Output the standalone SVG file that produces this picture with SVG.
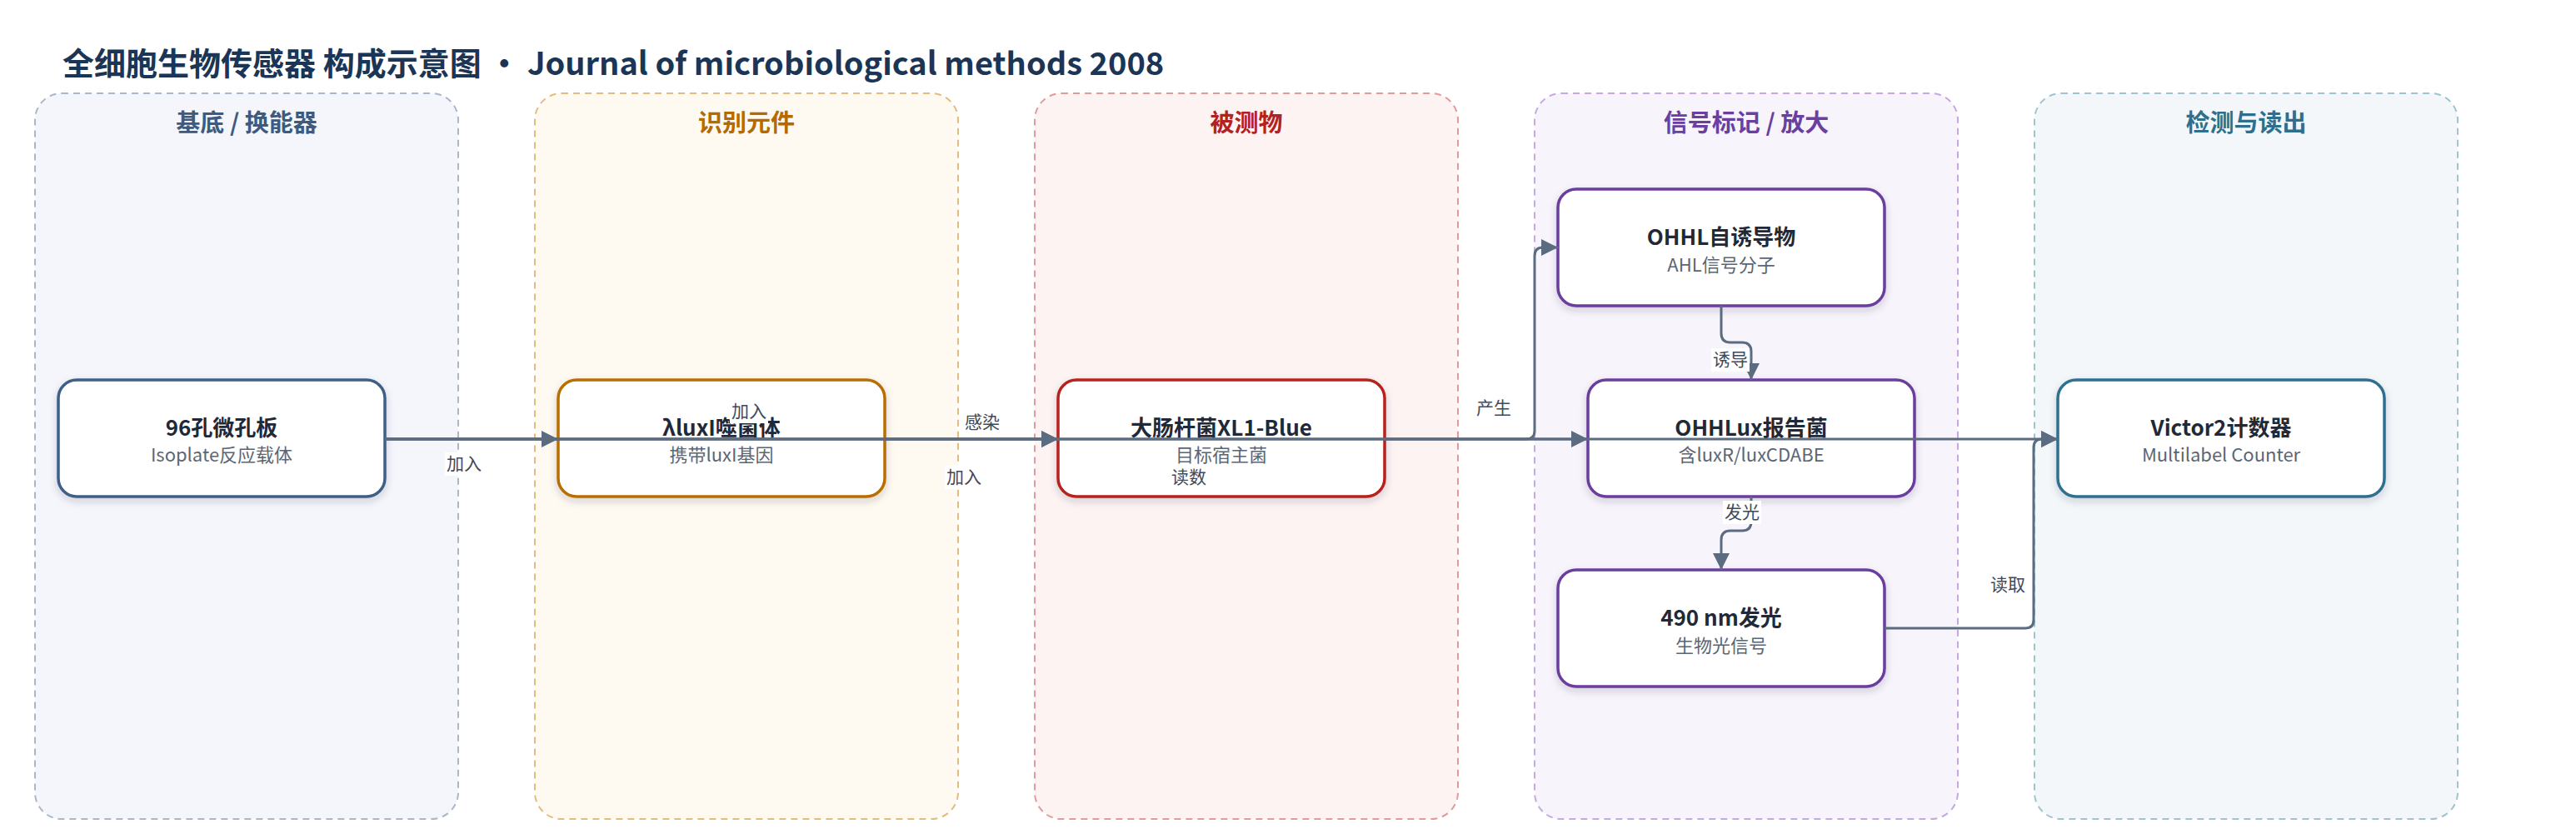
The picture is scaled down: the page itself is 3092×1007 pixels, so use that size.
<svg xmlns="http://www.w3.org/2000/svg" width="3092" height="1007" viewBox="0 0 3092 1007">
<defs>
<style>
text{font-family:"Noto Sans CJK SC","Noto Sans",sans-serif}
.title{font-size:38px;font-weight:700;fill:#1b3556}
.lane{stroke-width:2;stroke-dasharray:8 6}
.lt{font-size:29px;font-weight:700;text-anchor:middle}
.node rect{fill:#fff;stroke-width:3.5;filter:url(#sh)}
.t{font-size:26px;font-weight:700;fill:#1f2937;text-anchor:middle}
.s{font-size:22px;fill:#5b6675;text-anchor:middle}
.edge{fill:none;stroke:#5b6b80;stroke-width:3}
.lbl{font-size:21px;fill:#3f4a5a;text-anchor:middle}
.lb{fill:#fff}
</style>
<filter id="sh" x="-10%" y="-10%" width="120%" height="130%">
<feDropShadow dx="0" dy="4" stdDeviation="5" flood-color="#1f2937" flood-opacity="0.18"/>
</filter>
<marker id="ar" markerWidth="20" markerHeight="20" refX="20" refY="10" orient="auto" markerUnits="userSpaceOnUse">
<path d="M0,0 L20,10 L0,20 z" fill="#5b6b80"/>
</marker>
</defs>
<rect width="3092" height="1007" fill="#fff"/>
<text class="title" x="75" y="90">全细胞生物传感器 构成示意图 · Journal of microbiological methods 2008</text>

<g id="lanes">
<g id="lane-substrate">
<rect class="lane" x="42" y="112" width="508" height="871" rx="32" fill="#f4f6fb" stroke="#a9b7c9"/>
<text class="lt" x="296" y="158" fill="#3d5a80">基底 / 换能器</text>
</g>
<g id="lane-recognition">
<rect class="lane" x="642" y="112" width="508" height="871" rx="32" fill="#fef9f1" stroke="#e3bc7f"/>
<text class="lt" x="896" y="158" fill="#b46a00">识别元件</text>
</g>
<g id="lane-analyte">
<rect class="lane" x="1242" y="112" width="508" height="871" rx="32" fill="#fdf3f3" stroke="#e39a9a"/>
<text class="lt" x="1496" y="158" fill="#b22222">被测物</text>
</g>
<g id="lane-signal">
<rect class="lane" x="1842" y="112" width="508" height="871" rx="32" fill="#f7f4fc" stroke="#c6a8e3"/>
<text class="lt" x="2096" y="158" fill="#6b3fa0">信号标记 / 放大</text>
</g>
<g id="lane-readout">
<rect class="lane" x="2442" y="112" width="508" height="871" rx="32" fill="#f3f7f9" stroke="#9fc3cf"/>
<text class="lt" x="2696" y="158" fill="#2e6f8e">检测与读出</text>
</g>
</g>

<g id="node-plate" class="node">
<rect x="70" y="456" width="392" height="140" rx="22" stroke="#3f5f87"/>
<text class="t" x="266" y="523">96孔微孔板</text>
<text class="s" x="266" y="554">Isoplate反应载体</text>
</g>
<g id="node-phage" class="node">
<rect x="670" y="456" width="392" height="140" rx="22" stroke="#b86e00"/>
<text class="t" x="866" y="523">λluxI噬菌体</text>
<text class="s" x="866" y="554">携带luxI基因</text>
</g>
<g id="node-ecoli" class="node">
<rect x="1270" y="456" width="392" height="140" rx="22" stroke="#b8201f"/>
<text class="t" x="1466" y="523">大肠杆菌XL1-Blue</text>
<text class="s" x="1466" y="554">目标宿主菌</text>
</g>
<g id="node-ohhl" class="node">
<rect x="1870" y="227" width="392" height="140" rx="22" stroke="#6a3d9e"/>
<text class="t" x="2066" y="294">OHHL自诱导物</text>
<text class="s" x="2066" y="326">AHL信号分子</text>
</g>
<g id="node-reporter" class="node">
<rect x="1906" y="456" width="392" height="140" rx="22" stroke="#6a3d9e"/>
<text class="t" x="2102" y="523">OHHLux报告菌</text>
<text class="s" x="2102" y="554">含luxR/luxCDABE</text>
</g>
<g id="node-light" class="node">
<rect x="1870" y="684" width="392" height="140" rx="22" stroke="#6a3d9e"/>
<text class="t" x="2066" y="751">490 nm发光</text>
<text class="s" x="2066" y="783">生物光信号</text>
</g>
<g id="node-victor" class="node">
<rect x="2470" y="456" width="392" height="140" rx="22" stroke="#2f6f8f"/>
<text class="t" x="2666" y="523">Victor2计数器</text>
<text class="s" x="2666" y="554">Multilabel Counter</text>
</g>

<g id="edges">
<path class="edge" d="M462,527 H2470" marker-end="url(#ar)"/>
<path class="edge" d="M462,527 H1906" marker-end="url(#ar)"/>
<path class="edge" d="M462,527 H1270" marker-end="url(#ar)"/>
<path class="edge" d="M1062,527 H1270" marker-end="url(#ar)"/>
<path class="edge" d="M462,527 H670" marker-end="url(#ar)"/>
<path class="edge" d="M1662,527 H1832 Q1842,527 1842,517 V307 Q1842,297 1852,297 H1870" marker-end="url(#ar)"/>
<path class="edge" d="M2066,367 V400 Q2066,411 2077,411 H2091 Q2102,411 2102,422 V456" marker-end="url(#ar)"/>
<path class="edge" d="M2102,596 V626 Q2102,637 2091,637 H2077 Q2066,637 2066,648 V684" marker-end="url(#ar)"/>
<path class="edge" d="M2262,754 H2431 Q2441,754 2441,744 V537 Q2441,527 2451,527 H2470" marker-end="url(#ar)"/>
<g id="edge-labels">
<rect class="lb" x="534" y="543" width="46" height="28"/><text class="lbl" x="557" y="564">加入</text>
<rect class="lb" x="876" y="480" width="46" height="28"/><text class="lbl" x="899" y="501">加入</text>
<rect class="lb" x="1134" y="559" width="46" height="28"/><text class="lbl" x="1157" y="580">加入</text>
<rect class="lb" x="1156" y="493" width="46" height="28"/><text class="lbl" x="1179" y="514">感染</text>
<rect class="lb" x="1404" y="559" width="46" height="28"/><text class="lbl" x="1427" y="580">读数</text>
<rect class="lb" x="1770" y="476" width="46" height="28"/><text class="lbl" x="1793" y="497">产生</text>
<rect class="lb" x="2054" y="418" width="46" height="28"/><text class="lbl" x="2077" y="439">诱导</text>
<rect class="lb" x="2068" y="601" width="46" height="28"/><text class="lbl" x="2091" y="622">发光</text>
<rect class="lb" x="2387" y="688" width="46" height="28"/><text class="lbl" x="2410" y="709">读取</text>
</g>
</g>
</svg>
